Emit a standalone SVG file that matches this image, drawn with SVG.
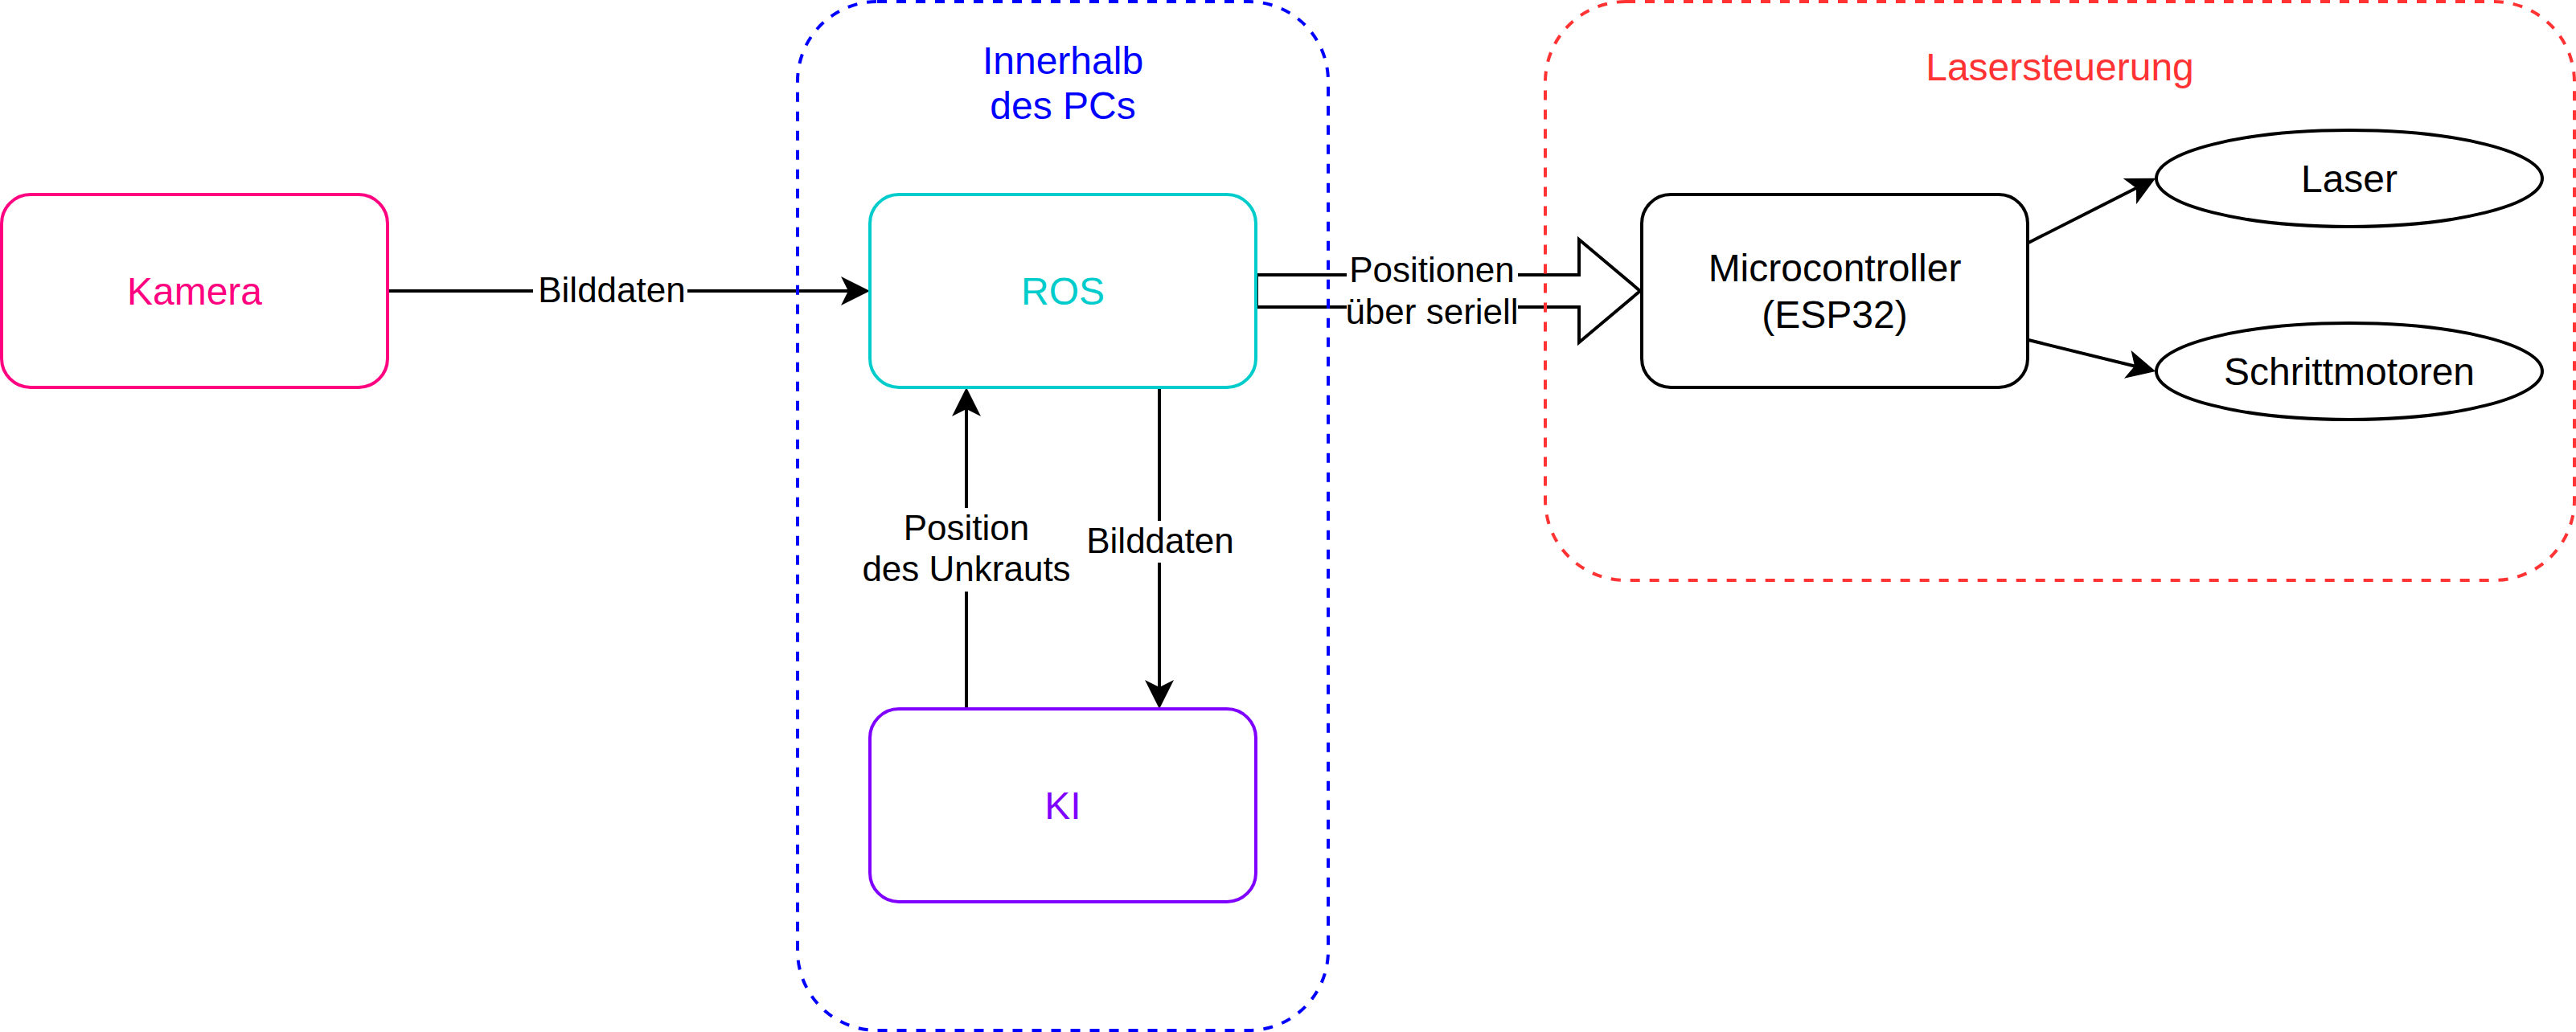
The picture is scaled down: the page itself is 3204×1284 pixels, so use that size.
<svg xmlns="http://www.w3.org/2000/svg" width="3204" height="1284" viewBox="0 0 3204 1284">
  <style>
    text { font-family: "Liberation Sans", Arial, Helvetica, sans-serif; text-anchor: middle; }
    .node { font-size: 48px; }
    .elabel { font-size: 44px; fill: #000000; }
    .line { fill: none; stroke: #000000; stroke-width: 4; }
    .box { fill: #FFFFFF; stroke-width: 4; }
    .container { fill: none; stroke-width: 4; stroke-dasharray: 12 12; }
    .bg { fill: #FFFFFF; stroke: none; }
  </style>
  <defs>
    <marker id="arrow" markerUnits="userSpaceOnUse" markerWidth="36" markerHeight="36" viewBox="0 0 36 36" refX="9" refY="18" orient="auto">
      <path d="M0,0 L36,18 L0,36 L9,18 Z" fill="#000000"/>
    </marker>
  </defs>
  <rect x="0" y="0" width="3204" height="1284" fill="#FFFFFF"/>

  <g id="connectors">
    <g id="edge-kamera-ros">
      <path class="line" d="M482,362 L1055,362" marker-end="url(#arrow)"/>
      <rect class="bg" x="663" y="338" width="192" height="48"/>
      <text class="elabel" x="761" y="376">Bilddaten</text>
    </g>
    <g id="edge-ki-ros">
      <path class="line" d="M1202,882 L1202,509" marker-end="url(#arrow)"/>
      <rect class="bg" x="1070" y="632" width="264" height="104"/>
      <text class="elabel" x="1202" y="672">Position</text>
      <text class="elabel" x="1202" y="723">des Unkrauts</text>
    </g>
    <g id="edge-ros-ki">
      <path class="line" d="M1442,482 L1442,855" marker-end="url(#arrow)"/>
      <rect class="bg" x="1348" y="648" width="190" height="52"/>
      <text class="elabel" x="1443" y="688">Bilddaten</text>
    </g>
    <g id="edge-ros-mc">
      <path class="line" d="M1563,342 L1964,342 L1964,298 L2040,362 L1964,426 L1964,382 L1563,382 Z"/>
      <rect class="bg" x="1675" y="322" width="213" height="90"/>
      <text class="elabel" x="1781" y="351">Positionen</text>
      <text class="elabel" x="1781" y="403">über seriell</text>
    </g>
    <g id="edge-mc-laser">
      <path class="line" d="M2523,302 L2657,234" marker-end="url(#arrow)"/>
    </g>
    <g id="edge-mc-motoren">
      <path class="line" d="M2523,423 L2655,455.5" marker-end="url(#arrow)"/>
    </g>
  </g>

  <g id="container-pc">
    <rect class="container" x="992" y="2" width="660" height="1280" rx="99" ry="99" stroke="#0000FF"/>
    <text class="node" x="1322" y="92" fill="#0000FF">Innerhalb</text>
    <text class="node" x="1322" y="148" fill="#0000FF">des PCs</text>
  </g>

  <g id="container-laser">
    <rect class="container" x="1922" y="2" width="1280" height="720" rx="100" ry="100" stroke="#FF3333"/>
    <text class="node" x="2562" y="100" fill="#FF3333">Lasersteuerung</text>
  </g>

  <g id="kamera">
    <rect class="box" x="2" y="242" width="480" height="240" rx="36" ry="36" stroke="#FF0080"/>
    <text class="node" x="242" y="379" fill="#FF0080">Kamera</text>
  </g>

  <g id="ros">
    <rect class="box" x="1082" y="242" width="480" height="240" rx="36" ry="36" stroke="#00CCCC"/>
    <text class="node" x="1322" y="379" fill="#00CCCC">ROS</text>
  </g>

  <g id="ki">
    <rect class="box" x="1082" y="882" width="480" height="240" rx="36" ry="36" stroke="#7F00FF"/>
    <text class="node" x="1322" y="1019" fill="#7F00FF">KI</text>
  </g>

  <g id="microcontroller">
    <rect class="box" x="2042" y="242" width="480" height="240" rx="36" ry="36" stroke="#000000"/>
    <text class="node" x="2282" y="350" fill="#000000">Microcontroller</text>
    <text class="node" x="2282" y="408" fill="#000000">(ESP32)</text>
  </g>

  <g id="laser">
    <ellipse class="box" cx="2922" cy="222" rx="240" ry="60" stroke="#000000"/>
    <text class="node" x="2922" y="239" fill="#000000">Laser</text>
  </g>

  <g id="schrittmotoren">
    <ellipse class="box" cx="2922" cy="462" rx="240" ry="60" stroke="#000000"/>
    <text class="node" x="2922" y="479" fill="#000000">Schrittmotoren</text>
  </g>
</svg>
